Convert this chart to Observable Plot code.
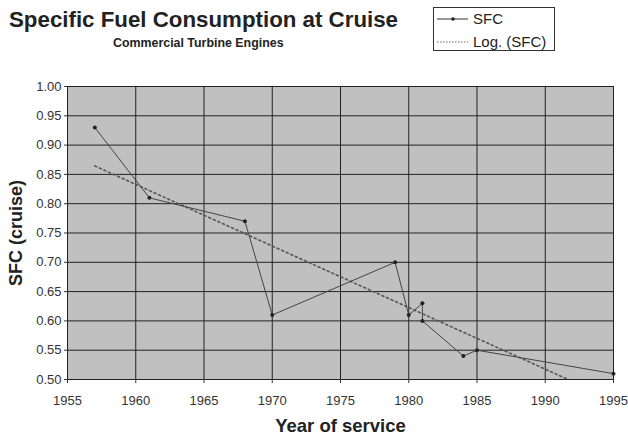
<!DOCTYPE html>
<html><head><meta charset="utf-8">
<script src="https://cdn.jsdelivr.net/npm/d3@7"></script>
<script src="https://cdn.jsdelivr.net/npm/@observablehq/plot@0.6"></script>
<style>
body{margin:0;background:#fff;font-family:"Liberation Sans",Arial,sans-serif;}
#wrap{position:relative;width:628px;height:439px;}
#title{position:absolute;left:9px;top:9px;font-size:22.3px;line-height:22.3px;font-weight:bold;color:#222;white-space:nowrap;}
#sub{position:absolute;left:113px;top:36.5px;font-size:12.4px;line-height:12.4px;font-weight:bold;color:#222;white-space:nowrap;}
#legend{position:absolute;left:433px;top:7px;width:120px;height:42px;border:1px solid #333;background:#fff;}
#chart{position:absolute;left:0;top:0;}
</style></head>
<body>
<div id="wrap">
<div id="chart"></div>
<div id="title">Specific Fuel Consumption at Cruise</div>
<div id="sub">Commercial Turbine Engines</div>
<div id="legend">
 <svg width="120" height="42" style="position:absolute;left:0;top:0">
  <line x1="3" y1="11" x2="34" y2="11" stroke="#333" stroke-width="1"/>
  <circle cx="19" cy="11" r="1.8" fill="#222"/>
  <text x="39" y="16" font-size="15" fill="#222" font-family="Liberation Sans, Arial, sans-serif">SFC</text>
  <line x1="3" y1="34" x2="34" y2="34" stroke="#666" stroke-width="1" stroke-dasharray="1.5,1.5"/>
  <text x="39" y="39" font-size="15" fill="#222" font-family="Liberation Sans, Arial, sans-serif">Log. (SFC)</text>
 </svg>
</div>
</div>
<script>
const years = [1957, 1961, 1968, 1970, 1979, 1980, 1981, 1981, 1984, 1985, 1995];
const sfc   = [0.93, 0.81, 0.77, 0.61, 0.70, 0.61, 0.63, 0.60, 0.54, 0.55, 0.51];
const xTicks = [1955, 1960, 1965, 1970, 1975, 1980, 1985, 1990, 1995];
const yTicks = [0.50, 0.55, 0.60, 0.65, 0.70, 0.75, 0.80, 0.85, 0.90, 0.95, 1.00];

const data = years.map((y, i) => ({year: y, sfc: sfc[i]}));

const chart = Plot.plot({
  width: 628,
  height: 439,
  marginLeft: 67,
  marginRight: 15,
  marginTop: 86,
  marginBottom: 60,
  style: {fontFamily: "Liberation Sans, Arial, sans-serif", fontSize: "13px", color: "#333", background: "transparent"},
  x: {domain: [1955, 1995], ticks: xTicks, tickFormat: d3.format("d"), label: null},
  y: {domain: [0.5, 1.0], ticks: yTicks, tickFormat: d3.format(".2f"), label: null},
  marks: [
    Plot.frame({fill: "#c0c0c0", stroke: "none"}),
    Plot.gridX(xTicks, {stroke: "#222", strokeOpacity: 1, strokeWidth: 1}),
    Plot.gridY(yTicks, {stroke: "#222", strokeOpacity: 1, strokeWidth: 1}),
    Plot.ruleX([1955], {stroke: "#222"}),
    Plot.ruleY([0.5], {stroke: "#222"}),
    Plot.axisX({ticks: xTicks, tickFormat: d3.format("d"), tickSize: 4, tickPadding: 12, fontSize: 13, label: null}),
    Plot.axisY({ticks: yTicks, tickFormat: d3.format(".2f"), tickSize: 3, tickPadding: 3, fontSize: 13, label: null}),
    Plot.linearRegressionY(data, {x: "year", y: "sfc", ci: 0, stroke: "#555", strokeWidth: 1.6, strokeDasharray: "2,3", clip: true}),
    Plot.line(data, {x: "year", y: "sfc", stroke: "#444", strokeWidth: 1}),
    Plot.dot(data, {x: "year", y: "sfc", r: 2, fill: "#222", stroke: "none"}),
    Plot.text(["Year of service"], {frameAnchor: "bottom", textAnchor: "middle", dy: 52, fontSize: 18.5, fontWeight: "bold", fill: "#222"}),
    Plot.text(["SFC (cruise)"], {frameAnchor: "left", textAnchor: "middle", dx: -51, rotate: -90, fontSize: 18, fontWeight: "bold", fill: "#222"})
  ]
});
document.getElementById("chart").appendChild(chart);
</script>
</body></html>
